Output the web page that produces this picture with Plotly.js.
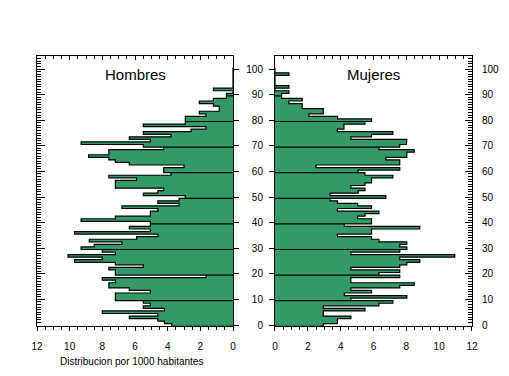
<!DOCTYPE html>
<html><head><meta charset="utf-8">
<script src="https://cdn.plot.ly/plotly-3.0.1.min.js"></script>
<style>html,body{margin:0;padding:0;background:#fff;} #chart{width:509px;height:376px;}</style>
</head><body><div id="chart"></div>
<script>
// ages 0..100 (one bar per year of age)
const ages = [0,1,2,3,4,5,6,7,8,9,10,11,12,13,14,15,16,17,18,19,20,21,22,23,24,25,26,27,28,29,30,31,32,33,34,35,36,37,38,39,40,41,42,43,44,45,46,47,48,49,50,51,52,53,54,55,56,57,58,59,60,61,62,63,64,65,66,67,68,69,70,71,72,73,74,75,76,77,78,79,80,81,82,83,84,85,86,87,88,89,90,91,92,93,94,95,96,97,98,99,100];
// distribution per 1000 inhabitants
const hombres = [3.75,4.2,4.6,6.35,4.6,8.0,4.2,5.49,5.06,5.49,
  7.2,7.2,7.2,5.06,6.35,7.6,7.6,7.2,8.0,1.65,
  7.2,7.2,7.6,5.49,7.2,9.7,8.0,10.1,7.2,8.0,
  9.3,8.5,6.8,8.8,5.9,4.6,9.7,5.06,6.35,5.06,
  5.06,9.3,7.2,5.06,5.06,4.6,6.8,3.3,4.6,3.3,
  2.92,5.49,4.6,4.24,7.2,7.2,7.2,5.9,7.6,3.8,
  4.24,4.24,3.0,6.35,7.2,7.6,8.84,7.6,7.6,4.24,
  5.49,9.3,5.06,6.35,3.8,5.49,2.57,1.65,5.49,2.92,
  2.92,2.92,1.65,2.06,0.84,0.84,1.2,2.06,1.2,0.4,
  0.4,0,1.2,0,0,0,0,0,0,0,0];
const mujeres = [2.94,3.8,3.8,4.62,2.94,2.94,5.48,2.94,6.33,7.18,
  4.62,8.03,4.22,5.88,4.62,7.6,8.48,4.62,4.62,7.6,
  6.33,7.6,4.62,7.6,8.03,8.82,7.6,10.95,4.62,7.6,
  8.03,7.6,8.03,6.33,5.88,3.8,5.88,5.88,8.82,4.22,
  5.88,5.88,5.03,5.48,6.33,3.8,5.88,5.03,3.8,3.35,
  6.75,3.35,5.07,5.48,4.62,5.48,5.88,5.88,7.18,5.48,
  5.07,7.6,2.5,7.6,7.6,6.75,8.03,8.03,8.48,6.33,
  7.6,8.0,8.03,4.62,5.88,7.18,3.8,4.2,4.2,5.48,
  5.88,3.81,2.07,2.94,2.94,1.66,1.66,0.85,1.66,0.4,
  0.4,0.85,0,0.85,0,0,0,0,0.85,0,0];
const xTickVals = [0,2,4,6,8,10,12];
const xTickText = ['0','2','4','6','8','10','12'];
const yTickVals = [0,10,20,30,40,50,60,70,80,90,100];
const yTickText = ['0','10','20','30','40','50','60','70','80','90','100'];
const panelTitles = ['Hombres','Mujeres'];
const axisTitle = 'Distribucion por 1000 habitantes';

const GREEN = '#339966';
const FONT = 'Liberation Sans, Arial, sans-serif';

// stepped outline of the one-year bars (bar a spans a-0.5 .. a+0.5)
function stepPath(vals){
  const xs=[0], ys=[ages[0]-0.5];
  vals.forEach((v,i)=>{ xs.push(v,v); ys.push(ages[i]-0.5, ages[i]+0.5); });
  xs.push(0); ys.push(ages[ages.length-1]+0.5);
  return {xs, ys};
}
// separators between bars at every tenth year
function decadeLines(vals){
  const xs=[], ys=[];
  for(let i=1;i<ages.length;i++){
    if(ages[i]%10===0){
      const m=Math.min(vals[i-1],vals[i]);
      xs.push(0,m,null); ys.push(ages[i]-0.5,ages[i]-0.5,null);
    }
  }
  return {xs, ys};
}

const traces=[];
[[hombres,'x','y'],[mujeres,'x2','y2']].forEach(([vals,xa,ya])=>{
  const s=stepPath(vals);
  traces.push({type:'scatter', mode:'lines', x:s.xs, y:s.ys, fill:'toself', fillcolor:GREEN,
    line:{color:'#000', width:1.2}, xaxis:xa, yaxis:ya, hoverinfo:'skip'});
  const d=decadeLines(vals);
  traces.push({type:'scatter', mode:'lines', x:d.xs, y:d.ys, line:{color:'#000', width:1.2},
    xaxis:xa, yaxis:ya, hoverinfo:'skip', connectgaps:false});
});

const yRange=[-0.39,105.08];
const tickFont={family:FONT,size:10,color:'#000'};
const baseX={showgrid:false, zeroline:false, showline:true, linecolor:'#000', linewidth:1,
  tickmode:'array', tickvals:xTickVals, ticktext:xTickText, tickcolor:'#000', tickfont:tickFont, fixedrange:true};
const baseY={showgrid:false, zeroline:false, showline:true, linecolor:'#000', linewidth:1,
  range:yRange, tickmode:'array', tickvals:yTickVals, ticktext:yTickText, tickcolor:'#000', tickfont:tickFont, fixedrange:true};

const minorX={ticks:'outside', tickmode:'linear', tick0:0, dtick:0.5, ticklen:3, tickcolor:'#000'};
const layout={
  width:509, height:376,
  margin:{l:37, r:37, t:56, b:50, pad:0},
  paper_bgcolor:'#fff', plot_bgcolor:'#fff',
  showlegend:false,
  font:{family:FONT, size:10, color:'#000'},
  xaxis:Object.assign({}, baseX, {domain:[0,0.4506], range:[12,0], anchor:'y', side:'bottom',
    ticks:'outside', ticklen:4, ticklabelstandoff:7, minor:minorX}),
  xaxis3:Object.assign({}, baseX, {overlaying:'x', range:[12,0], anchor:'y', side:'top',
    ticks:'inside', ticklen:4, showticklabels:false, minor:Object.assign({},minorX,{ticks:'inside'})}),
  xaxis2:Object.assign({}, baseX, {domain:[0.5471,1], range:[0,12], anchor:'y2', side:'bottom',
    ticks:'outside', ticklen:4, ticklabelstandoff:7, minor:minorX}),
  xaxis4:Object.assign({}, baseX, {overlaying:'x2', range:[0,12], anchor:'y2', side:'top',
    ticks:'inside', ticklen:4, showticklabels:false, minor:Object.assign({},minorX,{ticks:'inside'})}),
  yaxis:Object.assign({}, baseY, {domain:[0,1], anchor:'x', side:'left', ticks:'inside', ticklen:8,
    showticklabels:false, minor:{ticks:'inside', tickmode:'linear', tick0:0, dtick:1, ticklen:4, tickcolor:'#000'}}),
  yaxis3:Object.assign({}, baseY, {overlaying:'y', anchor:'x', side:'right', ticks:'outside', ticklen:5,
    showticklabels:false}),
  yaxis2:Object.assign({}, baseY, {domain:[0,1], anchor:'x2', side:'left', ticks:'outside', ticklen:5,
    ticklabelstandoff:4}),
  yaxis4:Object.assign({}, baseY, {overlaying:'y2', anchor:'x2', side:'right', ticks:'inside', ticklen:7,
    ticklabelstandoff:7,
    minor:{ticks:'inside', tickmode:'linear', tick0:0, dtick:1, ticklen:4, tickcolor:'#000'}}),
  annotations:[
    {xref:'x', yref:'y', x:6, y:97.7, text:panelTitles[0], showarrow:false, font:{family:FONT,size:15,color:'#000'}},
    {xref:'x2', yref:'y2', x:6, y:97.7, text:panelTitles[1], showarrow:false, font:{family:FONT,size:15,color:'#000'}},
    {xref:'paper', yref:'paper', x:(131-37)/435, xanchor:'center', y:-35/270, yanchor:'middle', text:axisTitle,
      showarrow:false, font:{family:FONT,size:10,color:'#000'}}
  ]
};
// placeholder traces so the overlay axes get drawn
traces.push({type:'scatter', mode:'markers', x:[null], y:[null], xaxis:'x3', yaxis:'y3', hoverinfo:'skip'});
traces.push({type:'scatter', mode:'markers', x:[null], y:[null], xaxis:'x4', yaxis:'y4', hoverinfo:'skip'});

Plotly.newPlot('chart', traces, layout, {staticPlot:true, displayModeBar:false});
</script></body></html>
